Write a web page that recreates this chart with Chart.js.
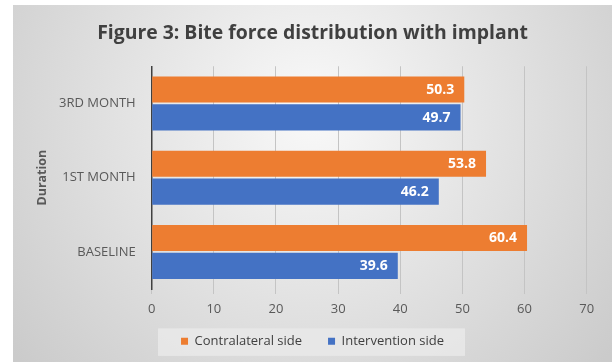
<!DOCTYPE html>
<html>
<head>
<meta charset="utf-8">
<script src="https://cdn.jsdelivr.net/npm/chart.js@4"></script>
<style>
  html, body { margin: 0; padding: 0; background: #ffffff; }
  #wrap { position: absolute; left: 13px; top: 5px; width: 599px; height: 357px; }
</style>
</head>
<body>
<div id="wrap"><canvas id="c"></canvas></div>
<script>
const categories = ["3RD MONTH", "1ST MONTH", "BASELINE"];
const contralateral = [50.3, 53.8, 60.4];
const intervention = [49.7, 46.2, 39.6];
const seriesNames = ["Contralateral side", "Intervention side"];
const xTicks = [0, 10, 20, 30, 40, 50, 60, 70];

const FONT = "'Open Sans', sans-serif";
const PAD_BOTTOM = 4;
const LEGEND_PAD = 26;

const bgPlugin = {
  id: 'bg',
  afterLayout(chart) {
    const lg = chart.legend;
    if (lg) {
      const newTop = 336.3 - 6.5 - LEGEND_PAD;
      lg.top = newTop;
      lg.height = 60;
      lg.bottom = newTop + 60;
    }
  },
  beforeDraw(chart) {
    const ctx = chart.ctx, w = chart.width, h = chart.height;
    ctx.save();
    const g = ctx.createRadialGradient(w * 0.5, h * 0.3, 10, w * 0.5, h * 0.3, w * 0.64);
    g.addColorStop(0, '#f8f8f8');
    g.addColorStop(1, '#cbcbcb');
    ctx.fillStyle = g;
    ctx.fillRect(0, 0, w, h);
    const lg = chart.legend;
    if (lg && lg.legendHitBoxes && lg.legendHitBoxes.length) {
      const hb = lg.legendHitBoxes;
      const first = hb[0], last = hb[hb.length - 1];
      const cy = first.top + first.height / 2 + 0.8;
      ctx.fillStyle = 'rgba(232,232,232,0.9)';
      const x0 = first.left - 23, x1 = last.left + last.width + 21;
      ctx.fillRect(x0, cy - 13.8, x1 - x0, 27.6);
    }
    ctx.restore();
  }
};

const labelPlugin = {
  id: 'vals',
  afterDatasetsDraw(chart) {
    const ctx = chart.ctx;
    ctx.save();
    ctx.font = "bold 14px " + FONT;
    ctx.fillStyle = '#ffffff';
    ctx.textAlign = 'right';
    ctx.textBaseline = 'middle';
    chart.data.datasets.forEach((ds, di) => {
      chart.getDatasetMeta(di).data.forEach((bar, i) => {
        ctx.fillText(ds.data[i].toFixed(1), bar.x - 10, bar.y + 0.5);
      });
    });
    ctx.restore();
  }
};

new Chart(document.getElementById('c'), {
  type: 'bar',
  data: {
    labels: categories,
    datasets: [
      { label: seriesNames[0], data: contralateral, backgroundColor: '#ED7D31' },
      { label: seriesNames[1], data: intervention, backgroundColor: '#4472C4' }
    ]
  },
  options: {
    indexAxis: 'y',
    responsive: true,
    maintainAspectRatio: false,
    animation: false,
    categoryPercentage: 0.75,
    barPercentage: 0.94,
    layout: { padding: { left: 0, right: 0, top: 0, bottom: PAD_BOTTOM } },
    plugins: {
      title: {
        display: true,
        text: 'Figure 3: Bite force distribution with implant',
        color: '#404040',
        font: { family: FONT, size: 19.4, weight: 'bold' },
        padding: { top: 17, bottom: 21 }
      },
      legend: {
        position: 'bottom',
        maxHeight: 20,
        labels: {
          color: '#404040',
          font: { family: FONT, size: 13 },
          boxWidth: 7,
          boxHeight: 7,
          padding: LEGEND_PAD
        }
      },
      tooltip: { enabled: false }
    },
    scales: {
      x: {
        min: 0, max: 70,
        afterBuildTicks(s) { s.ticks = xTicks.map(v => ({ value: v })); },
        afterFit(s) {
          const lg = s.chart.legend;
          s.height = s.chart.height - PAD_BOTTOM - (lg ? lg.height : 0) - 284;
        },
        grid: { color: '#c4c4c4', tickLength: 5, drawTicks: true },
        border: { display: false },
        ticks: { color: '#595959', font: { family: FONT, size: 13 }, padding: 7 }
      },
      y: {
        afterFit(s) { s.width = 138.7; },
        grid: { display: false, drawTicks: false },
        border: { display: true, color: '#404040', width: 1.5 },
        ticks: { color: '#595959', font: { family: FONT, size: 13 }, padding: 16 },
        title: {
          display: true, text: 'Duration', color: '#595959',
          font: { family: FONT, size: 12.5, weight: 'bold' },
          padding: { top: 22, bottom: 0 }
        }
      },
      yRight: {
        type: 'category',
        axis: 'y',
        position: 'right',
        afterFit(s) { s.width = 25.3; },
        grid: { display: false, drawTicks: false },
        border: { display: false },
        ticks: { display: false }
      }
    }
  },
  plugins: [bgPlugin, labelPlugin]
});
</script>
</body>
</html>
